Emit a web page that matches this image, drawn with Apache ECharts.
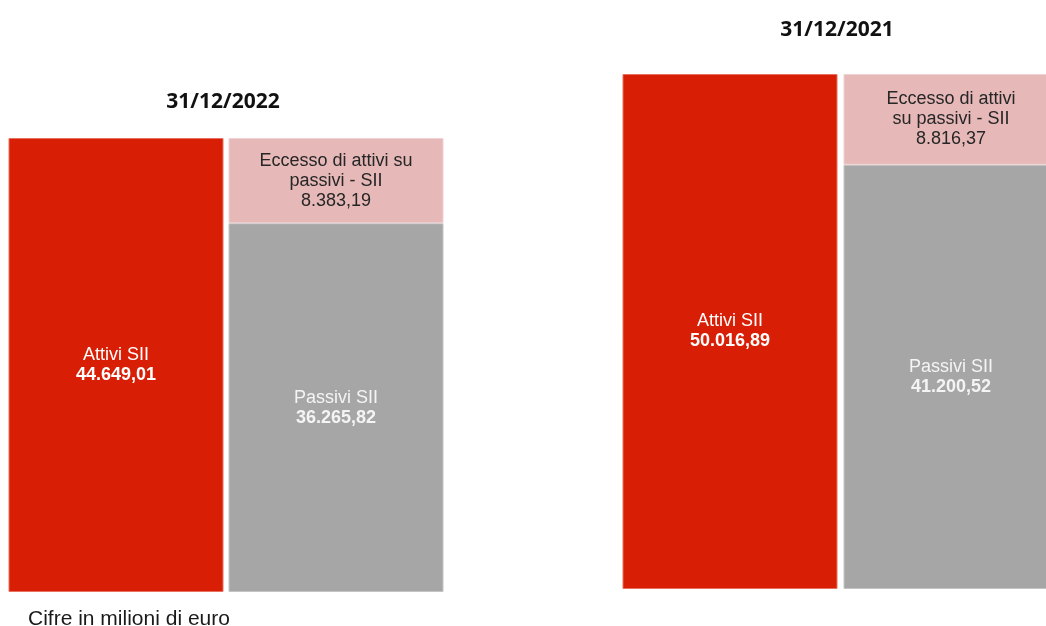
<!DOCTYPE html>
<html>
<head>
<meta charset="utf-8">
<script src="https://cdn.jsdelivr.net/npm/echarts@6/dist/echarts.min.js"></script>
<style>
  html, body { margin: 0; padding: 0; background: #fff; }
  #chart { width: 1046px; height: 626px; }
</style>
</head>
<body>
<div id="chart"></div>
<script>
// dati (milioni di euro)
const periods = ["31/12/2022", "31/12/2021"];
const categories = ["Attivi SII", "Passivi SII"];
const attivi = [44649.01, 50016.89];
const passivi = [36265.82, 41200.52];
const eccesso = [8383.19, 8816.37];
const eccessoLabels = ["Eccesso di attivi su\npassivi - SII", "Eccesso di attivi\nsu passivi - SII"];
const footnote = "Cifre in milioni di euro";

// formato italiano 44.649,01
function fmt(v) {
  const parts = v.toFixed(2).split(".");
  const int = parts[0].replace(/\B(?=(\d{3})+(?!\d))/g, ".");
  return int + "," + parts[1];
}

const chart = echarts.init(document.getElementById("chart"));

// posizione dei due riquadri (il secondo esce dal bordo destro)
const grids = [
  { left: 6, width: 440, top: 138, bottom: 34, outerBoundsMode: "none" },
  { left: 619.5, width: 442, top: 74, bottom: 37, outerBoundsMode: "none" },
];
const titlePos = [
  { left: 218, top: 87 },
  { left: 832, top: 15 },
];

const labelFont = "'Liberation Sans', Arial, sans-serif";

const xAxis = [];
const yAxis = [];
const series = [];
const titles = [];

periods.forEach((p, i) => {
  titles.push({
    text: p,
    left: titlePos[i].left,
    top: titlePos[i].top,
    textAlign: "center",
    textStyle: {
      fontFamily: "'Open Sans', sans-serif",
      fontWeight: "bold",
      fontSize: 21,
      color: "#111",
    },
  });

  xAxis.push({
    type: "category",
    gridIndex: i,
    data: categories,
    show: false,
  });
  yAxis.push({
    type: "value",
    gridIndex: i,
    min: 0,
    max: passivi[i] + eccesso[i],
    show: false,
  });

  series.push(
    {
      name: categories[0],
      type: "bar",
      xAxisIndex: i,
      yAxisIndex: i,
      stack: "s" + i,
      barWidth: 215,
      data: [attivi[i], "-"],
      itemStyle: { color: "#d81e05", borderColor: "#e8705f", borderWidth: 1 },
      label: {
        show: true,
        position: "inside",
        formatter: () => "{n|Attivi SII}\n{v|" + fmt(attivi[i]) + "}",
        rich: {
          n: { fontFamily: labelFont, fontSize: 18, color: "#fff", lineHeight: 20 },
          v: { fontFamily: labelFont, fontSize: 18, fontWeight: "bold", color: "#fff", lineHeight: 20 },
        },
      },
    },
    {
      name: categories[1],
      type: "bar",
      xAxisIndex: i,
      yAxisIndex: i,
      stack: "s" + i,
      barWidth: 215,
      data: ["-", passivi[i]],
      itemStyle: { color: "#a6a6a6", borderColor: "#c4c4c4", borderWidth: 1 },
      label: {
        show: true,
        position: "inside",
        formatter: () => "{n|Passivi SII}\n{v|" + fmt(passivi[i]) + "}",
        rich: {
          n: { fontFamily: labelFont, fontSize: 18, color: "#f4f4f4", lineHeight: 20 },
          v: { fontFamily: labelFont, fontSize: 18, fontWeight: "bold", color: "#f4f4f4", lineHeight: 20 },
        },
      },
    },
    {
      name: "Eccesso di attivi su passivi - SII",
      type: "bar",
      xAxisIndex: i,
      yAxisIndex: i,
      stack: "s" + i,
      barWidth: 215,
      data: ["-", eccesso[i]],
      itemStyle: { color: "#e6b8b8", borderColor: "#f0d2d2", borderWidth: 1 },
      label: {
        show: true,
        position: "inside",
        fontFamily: labelFont,
        fontSize: 18,
        lineHeight: 20,
        color: "#262626",
        align: "center",
        formatter: () => eccessoLabels[i] + "\n" + fmt(eccesso[i]),
      },
    }
  );
});

titles.push({
  text: footnote,
  left: 23,
  top: 604,
  textStyle: {
    fontFamily: labelFont,
    fontWeight: "normal",
    fontSize: 21,
    color: "#1a1a1a",
  },
});

chart.setOption({
  animation: false,
  title: titles,
  grid: grids,
  xAxis: xAxis,
  yAxis: yAxis,
  series: series,
});
</script>
</body>
</html>
